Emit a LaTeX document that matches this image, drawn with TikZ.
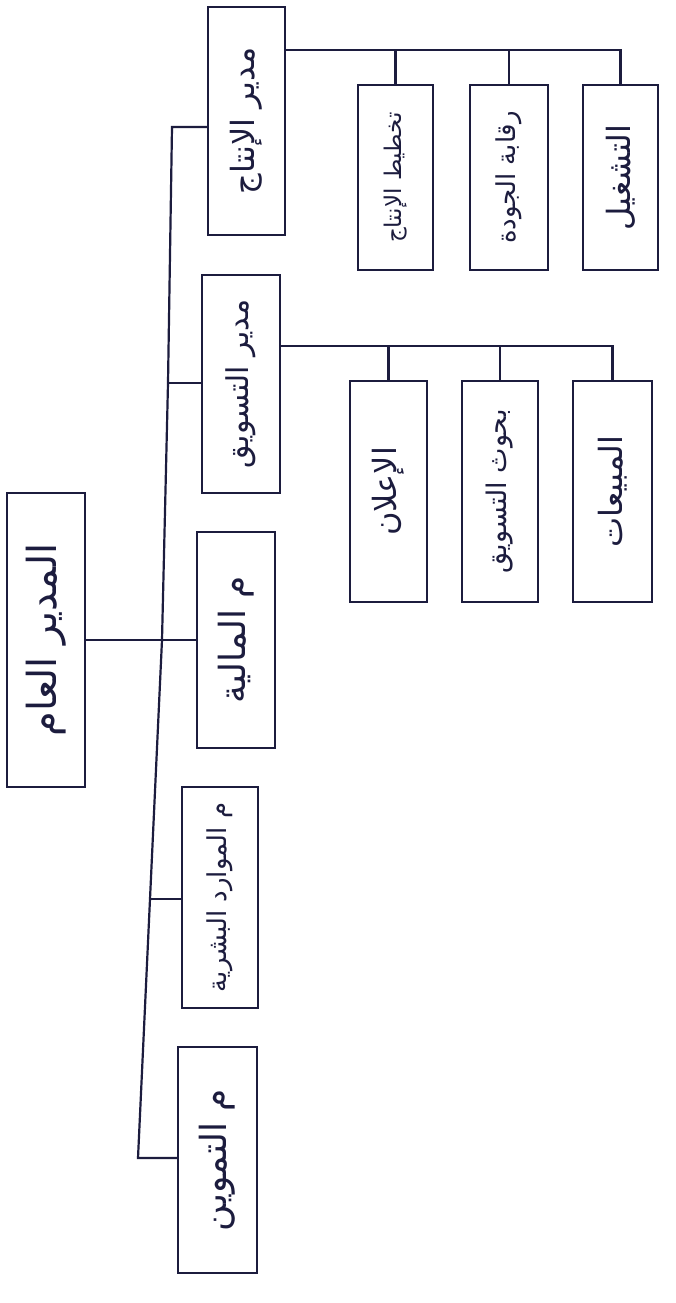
\documentclass[tikz,border=0pt]{standalone}
\usepackage{fontspec}
\newfontfamily\arabicfont[Script=Arabic]{DejaVu Sans}
\TeXXeTstate=1
\definecolor{ink}{RGB}{28,28,62}
\newcommand{\rtxt}[2]{\rotatebox{90}{\fontsize{#1}{#1}\selectfont\arabicfont #2}}
\tikzset{
  box/.style={draw=ink, line width=2.2pt, inner sep=0pt, text=ink},
  wire/.style={draw=ink, line width=2.2pt}
}
\begin{document}
\begin{tikzpicture}[x=1pt,y=-1pt]
\useasboundingbox[fill=white] (0,0) rectangle (675,1303);
% root
\node[box, minimum width=78pt, minimum height=294pt] (root) at (46,640) {\rtxt{40}{\beginR المدير العام\endR}};
% level 2
\node[box, minimum width=77pt, minimum height=228pt] (prod) at (246.5,121) {\rtxt{32}{\beginR مدير الإنتاج\endR}};
\node[box, minimum width=78pt, minimum height=218pt] (mkt) at (241,384) {\rtxt{30}{\beginR مدير التسويق\endR}};
\node[box, minimum width=78pt, minimum height=216pt] (fin) at (236,640) {\rtxt{36}{\beginR م المالية\endR}};
\node[box, minimum width=76pt, minimum height=221pt] (hr) at (220,897.5) {\rtxt{26}{\beginR م الموارد البشرية\endR}};
\node[box, minimum width=79pt, minimum height=226pt] (sup) at (217.5,1160) {\rtxt{36}{\beginR م التموين\endR}};
% production children
\node[box, minimum width=75pt, minimum height=185pt] (plan) at (395.5,177.5) {\rtxt{23}{\beginR تخطيط الإنتاج\endR}};
\node[box, minimum width=78pt, minimum height=185pt] (qc) at (509,177.5) {\rtxt{26}{\beginR رقابة الجودة\endR}};
\node[box, minimum width=75pt, minimum height=185pt] (ops) at (620.5,177.5) {\rtxt{32}{\beginR التشغيل\endR}};
% marketing children
\node[box, minimum width=77pt, minimum height=221pt] (adv) at (388.5,491.5) {\rtxt{32}{\beginR الإعلان\endR}};
\node[box, minimum width=76pt, minimum height=221pt] (res) at (500,491.5) {\rtxt{27}{\beginR بحوث التسويق\endR}};
\node[box, minimum width=79pt, minimum height=221pt] (sales) at (612.5,491.5) {\rtxt{32}{\beginR المبيعات\endR}};
% trunk
\coordinate (t1) at (172,127);
\coordinate (t2) at (168,383);
\coordinate (t3) at (162,640);
\coordinate (t4) at (150,899);
\coordinate (t5) at (138,1158);
\draw[wire] (t1 -| prod.west) -- (t1) -- (t2) -- (t3) -- (t4) -- (t5) -- (t5 -| sup.west);
\draw[wire] (t2) -- (t2 -| mkt.west);
\draw[wire] (root.east) -- (fin.west);
\draw[wire] (t4) -- (t4 -| hr.west);
% production bus
\coordinate (pb) at (285,50);
\draw[wire] (pb) -- (pb -| ops.north) -- (ops.north);
\draw[wire] (pb -| plan.north) -- (plan.north);
\draw[wire] (pb -| qc.north) -- (qc.north);
% marketing bus
\coordinate (mb) at (280,346);
\draw[wire] (mb) -- (mb -| sales.north) -- (sales.north);
\draw[wire] (mb -| adv.north) -- (adv.north);
\draw[wire] (mb -| res.north) -- (res.north);
\end{tikzpicture}
\end{document}
